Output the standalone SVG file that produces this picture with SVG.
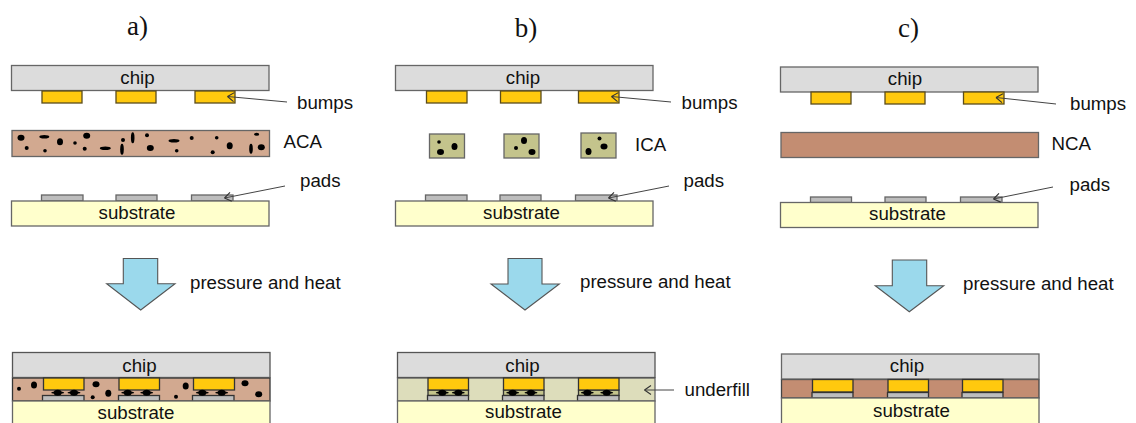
<svg xmlns="http://www.w3.org/2000/svg" width="1136" height="423" viewBox="0 0 1136 423">
<style>
text{font-family:"Liberation Sans",Arial,sans-serif;font-size:18.7px;fill:#111}
.t{font-family:"Liberation Serif","Times New Roman",serif;font-size:27px;text-anchor:middle}
.m{text-anchor:middle}
rect{stroke:#666;stroke-width:1.3}
.chip{fill:#dcdcdc}.sub{fill:#ffffcc}.bump{fill:#ffc90e;stroke:#5a4c1c}.pad{fill:#bdbdbd}
.aca{fill:#d2a990}.ica{fill:#c4c48c}.nca{fill:#c38d72}.uf{fill:#ddddbb}
.arrow{fill:#9bd9ec;stroke:#555;stroke-width:1.1}
.lead{fill:none;stroke:#444;stroke-width:1}
.low rect{stroke:#333}
</style>
<defs>
<marker id="open" markerWidth="9" markerHeight="11" refX="7.5" refY="5.5" orient="auto-start-reverse" markerUnits="userSpaceOnUse"><path d="M7.500 5.500L1 1M7.500 5.500L1 10" fill="none" stroke="#333" stroke-width="1.100"/></marker>
<g id="part"><ellipse cx="0" cy="0" rx="4" ry="3"/><ellipse cx="0" cy="0" rx="6.500" ry="1.300"/></g>
</defs>
<g id="title-a"><text class="t" x="137.500" y="35">a)</text></g>
<g id="title-b"><text class="t" x="526" y="37">b)</text></g>
<g id="title-c"><text class="t" x="908.500" y="37">c)</text></g>

<g id="panel-a-top">
<g id="a-chip"><rect class="chip" x="11.500" y="65.500" width="257.500" height="25"/><text class="m" x="137.500" y="84">chip</text></g>
<g id="a-bumps"><rect class="bump" x="42" y="91" width="40" height="12"/><rect class="bump" x="116" y="91" width="40" height="12"/><rect class="bump" x="195" y="91" width="40" height="12"/></g>
<g id="a-aca"><rect class="aca" x="12" y="130.500" width="257.500" height="26"/>
<g fill="#000">
<ellipse cx="21" cy="137.700" rx="3.500" ry="3"/><circle cx="26.700" cy="148" r="2"/><ellipse cx="44.300" cy="136.700" rx="5" ry="1.800"/><circle cx="45" cy="150.700" r="1.800"/><ellipse cx="60" cy="141.700" rx="3" ry="3.500"/><circle cx="75" cy="143" r="1.800"/><ellipse cx="86.700" cy="135.700" rx="3.500" ry="3"/><circle cx="84.700" cy="148.700" r="2"/><ellipse cx="105.300" cy="148.300" rx="5.500" ry="1.800"/><circle cx="123" cy="140" r="2"/><ellipse cx="122" cy="149.300" rx="1.800" ry="5.500"/><ellipse cx="132.700" cy="137.700" rx="1.800" ry="5.500"/><circle cx="147" cy="135.300" r="2"/><ellipse cx="150.300" cy="148" rx="3.500" ry="3"/><ellipse cx="174" cy="140.700" rx="5.500" ry="1.800"/><circle cx="176.700" cy="150.700" r="1.800"/><circle cx="191.700" cy="138" r="2"/><circle cx="216.700" cy="137.700" r="1.800"/><circle cx="212.700" cy="152.300" r="2"/><ellipse cx="229.700" cy="145.700" rx="3" ry="3.500"/><ellipse cx="256.700" cy="134.300" rx="2.500" ry="1.500"/><ellipse cx="251" cy="148.700" rx="1.800" ry="5"/><ellipse cx="261.300" cy="147.300" rx="3.500" ry="3"/>
</g></g>
<g id="a-pads"><rect class="pad" x="41.500" y="195" width="41.500" height="6"/><rect class="pad" x="116" y="195" width="41" height="6"/><rect class="pad" x="191.500" y="195" width="41.500" height="6"/></g>
<g id="a-sub"><rect class="sub" x="11.500" y="201" width="257.500" height="25"/><text class="m" x="137" y="218.500">substrate</text></g>
<text x="297" y="108.500">bumps</text><text x="283.500" y="148">ACA</text><text x="300" y="187">pads</text>
</g>

<g id="panel-a-bottom" class="low">
<g id="a2-layer"><rect class="aca" x="12.500" y="378" width="257.500" height="23"/></g>
<g id="a2-chip"><rect class="chip" x="12.500" y="352.500" width="257.500" height="25" style="stroke:#555"/><text class="m" x="139.500" y="371.500">chip</text></g>
<g id="a2-bumps"><rect class="bump" x="43.500" y="378" width="40.500" height="12"/><rect class="bump" x="119" y="378" width="40.500" height="12"/><rect class="bump" x="193.500" y="378" width="41" height="12"/></g>
<g id="a2-pads"><rect class="pad" x="42.500" y="395.500" width="41.500" height="5.500"/><rect class="pad" x="118.500" y="395.500" width="41" height="5.500"/><rect class="pad" x="192.500" y="395.500" width="41.500" height="5.500"/></g>
<g id="a2-particles" fill="#000">
<circle cx="19" cy="388.700" r="2"/><ellipse cx="34" cy="385" rx="3" ry="3.500"/><ellipse cx="96" cy="384.300" rx="3.500" ry="3"/><circle cx="92.700" cy="397.300" r="2"/><ellipse cx="108.300" cy="393.300" rx="3" ry="3.500"/><circle cx="176" cy="396.700" r="2"/><ellipse cx="185.700" cy="386" rx="3" ry="3.500"/><ellipse cx="245" cy="383.300" rx="3.500" ry="3"/><ellipse cx="258.700" cy="394.300" rx="3.500" ry="3"/>
<use href="#part" x="57.700" y="392.700"/><use href="#part" x="74" y="392.700"/><use href="#part" x="127.700" y="392.700"/><use href="#part" x="146.700" y="392.700"/><use href="#part" x="202.300" y="392.700"/><use href="#part" x="221.700" y="392.700"/>
</g>
<g id="a2-sub"><rect class="sub" x="12.500" y="401" width="257.500" height="24" style="stroke:#666"/><text class="m" x="136" y="418.500">substrate</text></g>
</g>

<g id="panel-b-top">
<g id="b-chip"><rect class="chip" x="395.500" y="65.500" width="257.500" height="25"/><text class="m" x="523" y="84">chip</text></g>
<g id="b-bumps"><rect class="bump" x="426.500" y="91" width="40.500" height="12"/><rect class="bump" x="500.500" y="91" width="40.500" height="12"/><rect class="bump" x="578.500" y="91" width="40.500" height="12"/></g>
<g id="b-ica"><rect class="ica" x="429.500" y="134" width="35" height="24"/><rect class="ica" x="504" y="134" width="35" height="24"/><rect class="ica" x="581" y="133" width="35" height="25"/>
<g fill="#000"><circle cx="439" cy="142" r="1.800"/><ellipse cx="440.500" cy="152" rx="3.500" ry="3"/><ellipse cx="454.500" cy="146.500" rx="3" ry="3.500"/><ellipse cx="524" cy="140.500" rx="3" ry="3.500"/><circle cx="516" cy="148" r="2"/><ellipse cx="532" cy="152" rx="3.500" ry="3"/><circle cx="599.500" cy="138.500" r="2"/><ellipse cx="604" cy="146.500" rx="3.500" ry="3"/><ellipse cx="588.500" cy="151.500" rx="3" ry="3.500"/></g></g>
<g id="b-pads"><rect class="pad" x="425.500" y="195" width="41.500" height="6"/><rect class="pad" x="500" y="195" width="41" height="6"/><rect class="pad" x="575.500" y="195" width="41.500" height="6"/></g>
<g id="b-sub"><rect class="sub" x="395.500" y="201" width="257.500" height="25"/><text class="m" x="521.500" y="218.500">substrate</text></g>
<text x="681.500" y="108.500">bumps</text><text x="635" y="151">ICA</text><text x="683.500" y="187">pads</text>
</g>

<g id="panel-b-bottom" class="low">
<g id="b2-layer"><rect class="uf" x="397.500" y="378" width="257.500" height="23" style="stroke:#666"/></g>
<g id="b2-chip"><rect class="chip" x="397.500" y="352.500" width="257.500" height="25" style="stroke:#555"/><text class="m" x="522.500" y="371.500">chip</text></g>
<g id="b2-cond"><rect class="ica" x="428" y="390" width="40.500" height="5.500"/><rect class="ica" x="503.500" y="390" width="40.500" height="5.500"/><rect class="ica" x="578.500" y="390" width="40.500" height="5.500"/></g>
<g id="b2-bumps"><rect class="bump" x="428" y="378" width="40.500" height="12"/><rect class="bump" x="503.500" y="378" width="40.500" height="12"/><rect class="bump" x="578.500" y="378" width="40.500" height="12"/></g>
<g id="b2-pads"><rect class="pad" x="427.500" y="395.500" width="41" height="5.500"/><rect class="pad" x="502.500" y="395.500" width="41.500" height="5.500"/><rect class="pad" x="577.500" y="395.500" width="41.500" height="5.500"/></g>
<g id="b2-particles" fill="#000"><use href="#part" x="442.300" y="392.700"/><use href="#part" x="458.300" y="392.700"/><use href="#part" x="512.700" y="392.700"/><use href="#part" x="531" y="392.700"/><use href="#part" x="587.300" y="392.700"/><use href="#part" x="606.700" y="392.700"/></g>
<g id="b2-sub"><rect class="sub" x="397.500" y="401" width="257.500" height="24" style="stroke:#666"/><text class="m" x="523.500" y="418">substrate</text></g>
<text x="684.500" y="395.500">underfill</text>
</g>

<g id="panel-c-top">
<g id="c-chip"><rect class="chip" x="780.500" y="67" width="257.500" height="25"/><text class="m" x="905" y="85">chip</text></g>
<g id="c-bumps"><rect class="bump" x="811" y="92" width="40" height="12"/><rect class="bump" x="885" y="92" width="40" height="12"/><rect class="bump" x="963.500" y="92" width="40.500" height="12"/></g>
<g id="c-nca"><rect class="nca" x="781" y="132.500" width="257.500" height="25"/></g>
<g id="c-pads"><rect class="pad" x="810.500" y="197" width="41" height="5.500"/><rect class="pad" x="885" y="197" width="41" height="5.500"/><rect class="pad" x="960.500" y="197" width="41.500" height="5.500"/></g>
<g id="c-sub"><rect class="sub" x="780.500" y="202.500" width="257.500" height="25"/><text class="m" x="907.500" y="220">substrate</text></g>
<text x="1070" y="110">bumps</text><text x="1051.500" y="150">NCA</text><text x="1069.500" y="191">pads</text>
</g>

<g id="panel-c-bottom" class="low">
<g id="c2-layer"><rect class="nca" x="781.500" y="379.500" width="257.500" height="18.500" style="stroke:#444"/></g>
<g id="c2-chip"><rect class="chip" x="781.500" y="354" width="257.500" height="25" style="stroke:#666"/><text class="m" x="907" y="372">chip</text></g>
<g id="c2-bumps"><rect class="bump" x="812.500" y="379.500" width="40.500" height="12.500"/><rect class="bump" x="888" y="379.500" width="40.500" height="12.500"/><rect class="bump" x="962.500" y="379.500" width="40.500" height="12.500"/></g>
<g id="c2-pads"><rect class="pad" x="812" y="392.500" width="41" height="5.500"/><rect class="pad" x="887.500" y="392.500" width="41" height="5.500"/><rect class="pad" x="962" y="392.500" width="41" height="5.500"/></g>
<g id="c2-sub"><rect class="sub" x="781.500" y="398" width="257.500" height="26" style="stroke:#666"/><text class="m" x="911.500" y="416.500">substrate</text></g>
</g>

<g id="block-arrows">
<path id="press-a" class="arrow" d="M123.300 258.500H157.700V283.700H175L140.700 310L106.700 283.700H123.300Z"/>
<path id="press-b" class="arrow" d="M508 258.500H542V284H559.300L525 310L491 284H508Z"/>
<path id="press-c" class="arrow" d="M892.300 260H926.700V285.700H943.700L909.300 311.700L875.300 285.700H892.300Z"/>
</g>
<text x="190" y="288.500">pressure and heat</text><text x="580" y="287.500">pressure and heat</text><text x="963" y="290">pressure and heat</text>

<g id="connectors" class="lead">
<path marker-end="url(#open)" d="M287 102L227.500 96.500"/>
<path marker-end="url(#open)" d="M671 102L611.500 96.500"/>
<path marker-end="url(#open)" d="M1056 104L996 97.500"/>
<path marker-end="url(#open)" d="M285 186L224.500 198"/>
<path marker-end="url(#open)" d="M669 186L608.500 198"/>
<path marker-end="url(#open)" d="M1053 187L993.500 199"/>
<path marker-end="url(#open)" d="M674 390H644.500"/>
</g>
</svg>
